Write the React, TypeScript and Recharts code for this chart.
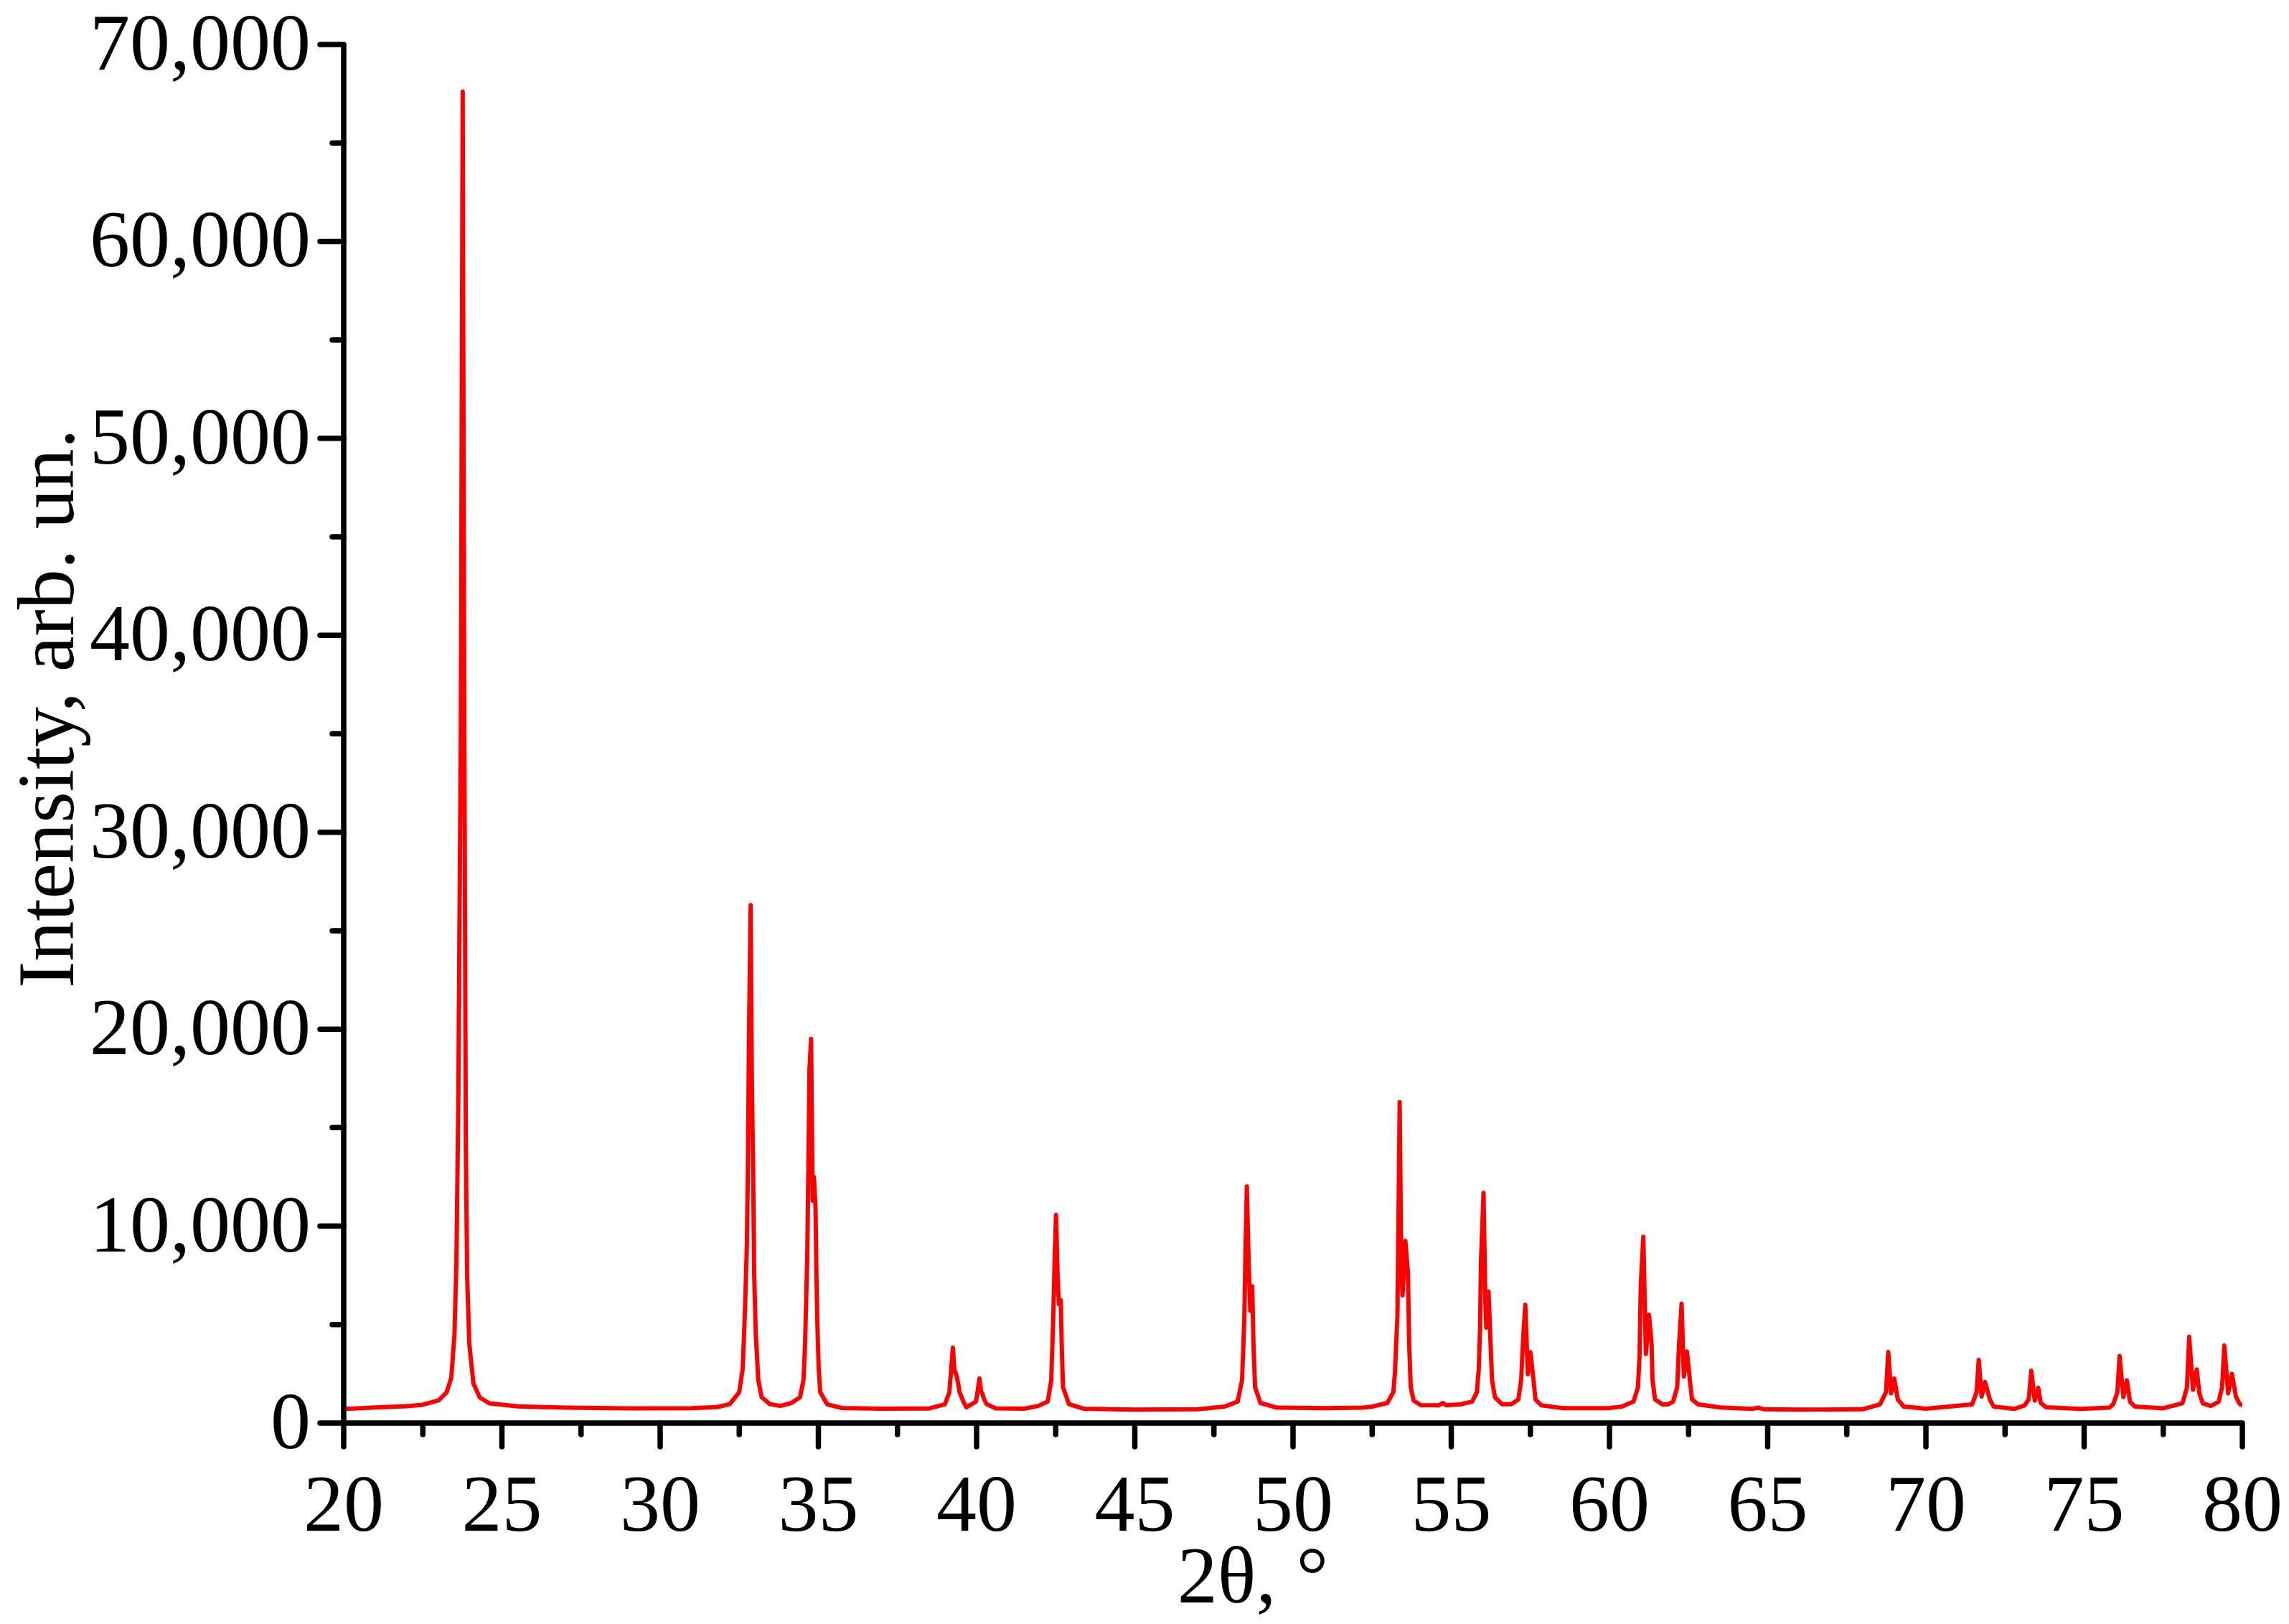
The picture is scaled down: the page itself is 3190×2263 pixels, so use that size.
import React from "react";
import { LineChart, Line, XAxis, YAxis } from "recharts";

const twoTheta = [
  20.0, 21.0, 22.0, 22.5, 23.0, 23.25, 23.4, 23.5, 23.56, 23.62, 23.7, 23.76, 23.81, 23.86, 23.9, 23.97, 24.1, 24.3, 24.6, 25.5,
  27.0, 29.0, 31.0, 31.8, 32.2, 32.5, 32.61, 32.68, 32.74, 32.77, 32.81, 32.86, 32.9, 32.94, 32.97, 33.02, 33.1, 33.21, 33.47, 33.8,
  34.15, 34.42, 34.53, 34.58, 34.65, 34.68, 34.72, 34.77, 34.82, 34.86, 34.91, 34.94, 34.97, 35.01, 35.06, 35.28, 35.74, 37.0, 38.5,
  39.0, 39.14, 39.2, 39.25, 39.3, 39.36, 39.42, 39.46, 39.6, 39.68, 39.98, 40.05, 40.09, 40.14, 40.18, 40.24, 40.32, 40.6, 41.5,
  41.95, 42.25, 42.36, 42.42, 42.47, 42.51, 42.56, 42.6, 42.66, 42.69, 42.73, 42.92, 43.38, 45.0, 47.0,
  47.84, 48.25, 48.39, 48.46, 48.5, 48.54, 48.6, 48.65, 48.71, 48.75, 48.8, 48.97, 49.5, 51.0,
  52.22, 52.52, 52.98, 53.17, 53.22, 53.3, 53.33, 53.37, 53.42, 53.46, 53.55, 53.63, 53.67, 53.72, 53.81, 54.04, 54.6, 54.73, 54.85, 55.3,
  55.66, 55.81, 55.87, 55.91, 55.94, 56.02, 56.08, 56.11, 56.18, 56.24, 56.29, 56.38, 56.6,
  56.91, 57.12, 57.21, 57.27, 57.34, 57.42, 57.5, 57.6, 57.66, 57.85, 58.5, 60.0,
  60.39, 60.76, 60.9, 60.95, 60.99, 61.07, 61.15, 61.25, 61.33, 61.36, 61.44, 61.67,
  61.85, 62.01, 62.14, 62.2, 62.28, 62.35, 62.45, 62.54, 62.61, 62.8, 63.5, 64.5, 64.7, 64.9, 66.0, 68.0,
  68.55, 68.74, 68.81, 68.9, 69.0, 69.11, 69.3, 70.0,
  71.46, 71.6, 71.67, 71.76, 71.87, 72.02, 72.14, 72.8,
  73.12, 73.25, 73.33, 73.44, 73.55, 73.63, 73.8, 74.9, 75.8,
  75.92, 76.05, 76.12, 76.24, 76.35, 76.45, 76.6, 77.5,
  78.11, 78.25, 78.32, 78.44, 78.56, 78.64, 78.75, 79.0,
  79.25, 79.36, 79.43, 79.55, 79.67, 79.8, 79.92, 80.0,
];

const intensity = [
  720, 790, 860, 930, 1150, 1550, 2300, 4500, 8000, 16000, 35000, 67600, 36000, 14000, 7500, 4000, 2000, 1300, 1000, 850,
  780, 750, 760, 810, 960, 1570, 2780, 5700, 9000, 12500, 20000, 26300, 17000, 12800, 7650, 4600, 2190, 1310, 960, 870,
  1020, 1310, 2190, 4000, 8600, 12500, 18000, 19500, 11300, 12500, 10930, 7400, 4960, 2770, 1570, 950, 765, 730, 740,
  950, 1570, 2800, 3830, 2700, 2440, 2000, 1570, 1030, 800, 1090, 1800, 2270, 1600, 1510, 1200, 960, 750, 730,
  870, 1090, 2190, 5210, 8500, 10570, 7500, 6050, 6240, 4010, 1820, 960, 730, 680, 700,
  840, 1090, 2190, 5210, 9000, 12020, 8000, 5700, 6940, 4010, 1820, 1020, 780, 760,
  780, 840, 1020, 1570, 2550, 5470, 10000, 16300, 8000, 6490, 9250, 7650, 4010, 1820, 1140, 910, 900, 1020, 900, 950,
  1090, 1570, 2770, 4740, 8250, 11690, 6000, 4850, 6670, 4120, 2170, 1320, 960,
  960, 1200, 2190, 4240, 6000, 2480, 3600, 2190, 1200, 900, 760, 760,
  840, 1090, 1820, 3390, 7030, 9460, 3510, 5490, 4010, 2190, 1200, 950,
  950, 1090, 1820, 4010, 6060, 2360, 3630, 2190, 1200, 950, 790, 720, 780, 700, 680, 700,
  950, 1570, 3610, 1510, 2260, 1200, 840, 730,
  950, 1570, 3210, 1350, 2080, 1200, 840, 720,
  900, 1200, 2660, 1140, 1790, 1020, 800, 720, 780,
  960, 1570, 3410, 1320, 2170, 1080, 840, 750,
  1010, 1810, 4380, 1690, 2720, 1510, 1000, 870,
  1080, 1810, 3940, 1510, 2500, 1320, 960, 900,
];

const xTicks = [20, 22.5, 25, 27.5, 30, 32.5, 35, 37.5, 40, 42.5, 45, 47.5, 50, 52.5, 55, 57.5, 60, 62.5, 65, 67.5, 70, 72.5, 75, 77.5, 80];
const yTicks = [0, 5000, 10000, 15000, 20000, 25000, 30000, 35000, 40000, 45000, 50000, 55000, 60000, 65000, 70000];
const xTitle = "2θ, °";
const yTitle = "Intensity, arb. un.";

const data = twoTheta.map((t, i) => ({ t, intensity: intensity[i] }));

const FONT = "'Liberation Serif', 'Times New Roman', serif";
const FS = 112;
const AXW = 7.5;

const XTick = (props: any) => {
  const { x, y, payload } = props;
  const v = payload.value;
  const major = Math.abs(v % 5) < 1e-9;
  return (
    <g>
      <line x1={x} y1={y} x2={x} y2={y + (major ? 33 : 16)} stroke="#000" strokeWidth={AXW} strokeLinecap="round" />
      {major && (
        <text x={x} y={y + 150} textAnchor="middle" fontFamily={FONT} fontSize={FS} fill="#000">
          {String(v)}
        </text>
      )}
    </g>
  );
};

const YTick = (props: any) => {
  const { x, y, payload } = props;
  const v = payload.value;
  const major = Math.abs(v % 10000) < 1e-9;
  return (
    <g>
      <line x1={x} y1={y} x2={x - (major ? 33 : 16)} y2={y} stroke="#000" strokeWidth={AXW} strokeLinecap="round" />
      {major && (
        <text x={x - 46} y={y + 35} textAnchor="end" fontFamily={FONT} fontSize={FS} fill="#000">
          {v.toLocaleString("en-US")}
        </text>
      )}
    </g>
  );
};

const XLabel = () => (
  <text x={1746} y={2233} textAnchor="middle" fontFamily={FONT} fontSize={FS} fill="#000">
    {xTitle}
  </text>
);

const YLabel = () => (
  <text
    x={102}
    y={987}
    transform="rotate(-90, 102, 987)"
    textAnchor="middle"
    fontFamily={FONT}
    fontSize={FS}
    fill="#000"
  >
    {yTitle}
  </text>
);

export default function App() {
  return (
    <div style={{ position: "absolute", left: 0, top: 0, background: "#fff" }}>
      <LineChart
        width={3190}
        height={2263}
        data={data}
        margin={{ top: 62, right: 65, bottom: 180, left: 379 }}
      >
        <XAxis
          dataKey="t"
          type="number"
          domain={[20, 80]}
          ticks={xTicks}
          interval={0}
          allowDataOverflow
          height={100}
          tickSize={0}
          tickMargin={0}
          tickLine={false}
          axisLine={{ stroke: "#000", strokeWidth: AXW }}
          tick={<XTick />}
          label={<XLabel />}
        />
        <YAxis
          type="number"
          domain={[0, 70000]}
          ticks={yTicks}
          interval={0}
          allowDataOverflow
          width={100}
          tickSize={0}
          tickMargin={0}
          tickLine={false}
          axisLine={{ stroke: "#000", strokeWidth: AXW }}
          tick={<YTick />}
          label={<YLabel />}
        />
        <Line
          type="linear"
          dataKey="intensity"
          stroke="#ff0000"
          strokeWidth={6}
          strokeLinejoin="round"
          dot={false}
          activeDot={false}
          isAnimationActive={false}
        />
      </LineChart>
    </div>
  );
}
